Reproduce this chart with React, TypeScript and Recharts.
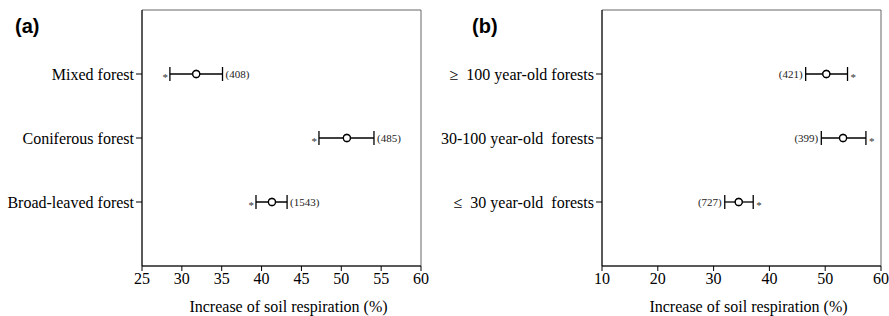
import { ScatterChart, Scatter, XAxis, YAxis, ErrorBar, ReferenceArea } from 'recharts'

const forestTypes = ['Mixed forest', 'Coniferous forest', 'Broad-leaved forest']
const typeMean = [31.8, 50.7, 41.3]
const typeLow = [28.5, 47.2, 39.3]
const typeHigh = [35.1, 54.1, 43.2]
const typeN = [408, 485, 1543]
const typeTicks = [25, 30, 35, 40, 45, 50, 55, 60]

const standAges = ['\u2265\u00a0\u00a0100 year-old forests', '30-100 year-old\u00a0\u00a0forests', '\u2264\u00a0\u00a030 year-old\u00a0\u00a0forests']
const ageMean = [50.2, 53.2, 34.5]
const ageLow = [46.5, 49.3, 32.0]
const ageHigh = [54.0, 57.3, 37.1]
const ageN = [421, 399, 727]
const ageTicks = [10, 20, 30, 40, 50, 60]

const serif = 'Liberation Serif, Times New Roman, DejaVu Serif, serif'

type PanelProps = {
  cats: string[]
  mean: number[]
  low: number[]
  high: number[]
  n: number[]
  ticks: number[]
  starLeft: boolean
  width: number
  yWidth: number
  right: number
}

function Panel({ cats, mean, low, high, n, ticks, starLeft, width, yWidth, right }: PanelProps) {
  const points = cats.map((c, i) => ({ x: mean[i], y: i + 1, err: [mean[i] - low[i], high[i] - mean[i]] }))
  const stars = cats.map((c, i) => ({ x: starLeft ? low[i] : high[i], y: i + 1 }))
  const counts = cats.map((c, i) => ({ x: starLeft ? high[i] : low[i], y: i + 1, n: n[i] }))
  const lo = ticks[0]
  const hi = ticks[ticks.length - 1]

  const starShape = (p: any) => (
    <text
      x={starLeft ? p.cx - 2 : p.cx + 3}
      y={p.cy + 6.5}
      textAnchor={starLeft ? 'end' : 'start'}
      fontSize={11}
      fontFamily={serif}
      fill="#333"
    >
      *
    </text>
  )
  const countShape = (p: any) => (
    <text
      x={starLeft ? p.cx + 3 : p.cx - 3}
      y={p.cy + 3.5}
      textAnchor={starLeft ? 'start' : 'end'}
      fontSize={11}
      fontFamily={serif}
      fill="#222"
    >
      ({p.payload.n})
    </text>
  )
  const meanShape = (p: any) => <circle cx={p.cx} cy={p.cy} r={3.5} fill="#fff" stroke="#000" strokeWidth={1.3} />

  return (
    <ScatterChart width={width} height={316} margin={{ top: 10, right, bottom: 0, left: 0 }} style={{ fontFamily: serif }}>
      <ReferenceArea x1={lo} x2={hi} y1={0} y2={4} fill="none" stroke="#666" strokeWidth={1} />
      <XAxis
        type="number"
        dataKey="x"
        domain={[lo, hi]}
        ticks={ticks}
        height={50}
        tickSize={5}
        stroke="#000"
        fontFamily={serif}
        tick={{ fontSize: 16, fill: '#000', fontFamily: serif }}
        label={{ value: 'Increase of soil respiration (%)', position: 'insideBottom', offset: 4, dx: 7, fontSize: 16, fill: '#000', fontFamily: serif }}
      />
      <YAxis
        type="number"
        dataKey="y"
        domain={[0, 4]}
        ticks={[1, 2, 3]}
        reversed
        width={yWidth}
        tickSize={6}
        tickMargin={2}
        stroke="#000"
        fontFamily={serif}
        tickFormatter={(v: number) => cats[v - 1] ?? ''}
        tick={{ fontSize: 16, fill: '#000', fontFamily: serif }}
      />
      <Scatter data={points} shape={meanShape} isAnimationActive={false}>
        <ErrorBar dataKey="err" direction="x" width={7} stroke="#000" strokeWidth={1.3} isAnimationActive={false} />
      </Scatter>
      <Scatter data={points} shape={meanShape} isAnimationActive={false} />
      <Scatter data={stars} shape={starShape} isAnimationActive={false} />
      <Scatter data={counts} shape={countShape} isAnimationActive={false} />
    </ScatterChart>
  )
}

const tag = { position: 'absolute' as const, fontFamily: 'Liberation Sans, Arial, sans-serif', fontWeight: 700, fontSize: 20, lineHeight: '20px' }

export default function App() {
  return (
    <div style={{ position: 'absolute', left: 0, top: 0, width: 889, height: 316, background: '#fff', overflow: 'hidden', fontFamily: serif }}>
      <div style={{ position: 'absolute', left: 0, top: 0 }}>
        <Panel cats={forestTypes} mean={typeMean} low={typeLow} high={typeHigh} n={typeN} ticks={typeTicks} starLeft width={440} yWidth={142} right={19} />
      </div>
      <div style={{ position: 'absolute', left: 440, top: 0 }}>
        <Panel cats={standAges} mean={ageMean} low={ageLow} high={ageHigh} n={ageN} ticks={ageTicks} starLeft={false} width={449} yWidth={162} right={8} />
      </div>
      <div style={{ ...tag, left: 15, top: 16 }}>(a)</div>
      <div style={{ ...tag, left: 472, top: 16 }}>(b)</div>
    </div>
  )
}
